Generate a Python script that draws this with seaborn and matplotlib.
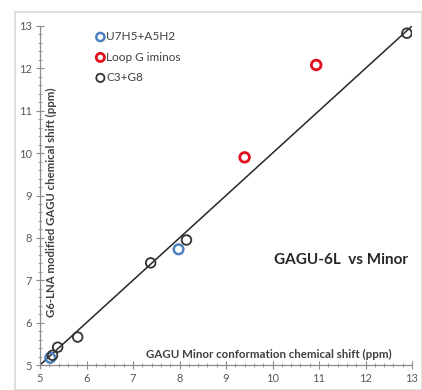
import matplotlib
matplotlib.use("Agg")
import matplotlib.pyplot as plt
import seaborn as sns
import pandas as pd
from matplotlib.patches import Rectangle
from matplotlib.ticker import MultipleLocator

sns.set_theme(style="white")
plt.rcParams['font.family'] = ['Lato', 'DejaVu Sans']

groups = ["U7H5+A5H2", "Loop G iminos", "C3+G8"]
blue_x = [5.22, 7.98]
blue_y = [5.17, 7.73]
red_x = [9.40, 10.94]
red_y = [9.90, 12.08]
black_x = [5.27, 5.38, 5.81, 7.38, 8.15, 12.89]
black_y = [5.23, 5.42, 5.66, 7.41, 7.95, 12.83]
line_x = [5, 13]
line_y = [5, 13]
colors = ["#4f81bd", "#e0101e", "#333333"]
widths = [1.8, 2.0, 1.3]

df = pd.DataFrame({
    "x": blue_x + red_x + black_x,
    "y": blue_y + red_y + black_y,
    "group": [groups[0]] * len(blue_x) + [groups[1]] * len(red_x) + [groups[2]] * len(black_x),
})

fig = plt.figure(figsize=(4.22, 3.9), dpi=100)
fig.patches.append(Rectangle((15/422, 0), 1 - 15/422, 1 - 12/390, transform=fig.transFigure,
                             fill=False, edgecolor="#d9d9d9", linewidth=1.2, zorder=0))
ax = fig.add_axes([40/422, 25/390, 372/422, 339/390])

sns.lineplot(x=line_x, y=line_y, ax=ax, color="#262626", linewidth=1.1, zorder=1)
for g, c, w in zip(groups, colors, widths):
    sub = df[df.group == g]
    ax.scatter(sub.x, sub.y, s=48, facecolors="none", edgecolors=c, linewidths=w,
               label=g, zorder=3)

ax.set_xlim(5, 13)
ax.set_ylim(5, 13)
ax.xaxis.set_major_locator(MultipleLocator(1))
ax.yaxis.set_major_locator(MultipleLocator(1))
ax.xaxis.set_minor_locator(MultipleLocator(0.2))
ax.yaxis.set_minor_locator(MultipleLocator(0.2))
for s in ["top", "right"]:
    ax.spines[s].set_visible(False)
for s in ["left", "bottom"]:
    ax.spines[s].set_color("#8c8c8c")
    ax.spines[s].set_linewidth(0.9)
ax.tick_params(which="major", direction="inout", length=6, width=0.8, color="#8c8c8c",
               labelsize=8, labelcolor="#595959", bottom=True, left=True, pad=3)
ax.tick_params(which="minor", direction="inout", length=3, width=0.6, color="#8c8c8c",
               bottom=True, left=True)
ax.set_xlabel("")
ax.set_ylabel("")

ax.text(0.03, 0.48, "G6-LNA modified GAGU chemical shift (ppm)", rotation=90,
        fontsize=8.2, fontweight="bold", color="#404040", transform=ax.transAxes,
        ha="center", va="center")
ax.text(0.944, 0.03, "GAGU Minor conformation chemical shift (ppm)",
        fontsize=8.3, fontweight="bold", color="#404040", transform=ax.transAxes,
        ha="right", va="center")
ax.text(0.81, 0.31, "GAGU-6L  vs Minor", fontsize=11, fontweight="bold", color="#262626",
        transform=ax.transAxes, ha="center", va="center")

leg = ax.legend(loc="upper left", bbox_to_anchor=(0.148, 0.985), frameon=False, fontsize=8.5,
                handletextpad=0.05, labelspacing=0.8, markerscale=0.85, handlelength=0.9,
                borderpad=0.0, borderaxespad=0.0)
for t in leg.get_texts():
    t.set_color("#404040")

fig.savefig("out.png", dpi=100)
